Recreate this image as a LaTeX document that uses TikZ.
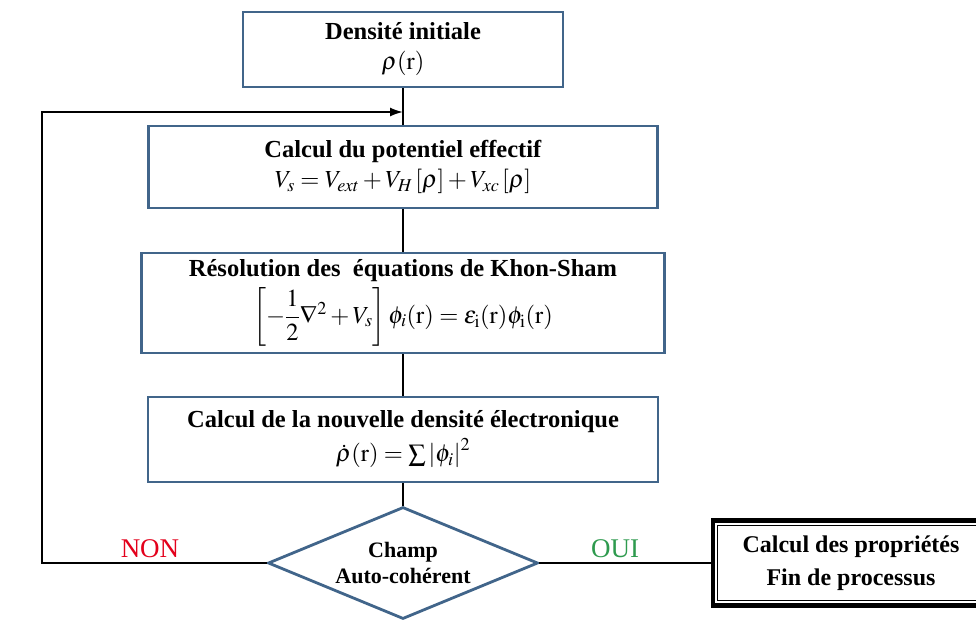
\documentclass[tikz,border=0pt]{standalone}
\usepackage{amsmath}
\usepackage{mathptmx}
\usepackage{fontspec}
\setmainfont{Liberation Serif}
\usetikzlibrary{shapes.geometric,arrows.meta,calc}
\definecolor{boxblue}{HTML}{41658A}
\definecolor{nonred}{HTML}{E3001B}
\definecolor{ouigreen}{HTML}{2E9A4E}
\begin{document}
\begin{tikzpicture}[x=1pt,y=-1pt,
  stepbox/.style={draw=boxblue,line width=2.8pt,fill=white,align=center,inner sep=0pt,
    font=\fontsize{24.5}{30}\selectfont},
  conn/.style={line width=1.8pt,black},
  lbl/.style={font=\fontsize{27}{30}\selectfont}]
\useasboundingbox (0,0) rectangle (976,630);
\node[stepbox,minimum width=320pt,minimum height=75pt] (b1) at (403,49.5)
  {\textbf{Densité initiale}\\ $\rho(\mathrm{r})$};
\node[stepbox,minimum width=509pt,minimum height=82pt] (b2) at (403,167)
  {\textbf{Calcul du potentiel effectif}\\ $V_s = V_{ext} + V_H\left[\rho\right] + V_{xc}\left[\rho\right]$};
\node[stepbox,minimum width=523pt,minimum height=100pt] (b3) at (403,303)
  {\textbf{Résolution des \ équations de Khon-Sham}\\[5pt] $\left[-\dfrac{1}{2}\nabla^2 + V_s\right]\phi_i(\mathrm{r}) = \varepsilon_{\mathrm{i}}(\mathrm{r})\phi_{\mathrm{i}}(\mathrm{r})$};
\node[stepbox,minimum width=510pt,minimum height=85pt] (b4) at (403,439.5)
  {\textbf{Calcul de la nouvelle densité électronique}\\[4pt] $\dot{\rho}(\mathrm{r}) = \sum\left|\phi_i\right|^2$};
\node[diamond,draw=boxblue,line width=2.8pt,fill=white,minimum width=270pt,minimum height=112pt,
  aspect=2.4,inner sep=0pt,align=center,font=\fontsize{22}{26}\selectfont] (d) at (403,563)
  {\textbf{Champ}\\\textbf{Auto-cohérent}};
\node[draw=black,line width=4.5pt,minimum width=276pt,minimum height=85pt,inner sep=0pt,
  align=center,font=\fontsize{24}{33}\selectfont] (fin) at (851,563)
  {\textbf{Calcul des propriétés}\\\textbf{Fin de processus}};
\draw[line width=1pt] ($(fin.south west)+(7,-7)$) rectangle ($(fin.north east)+(-7,7)$);
\coordinate (loopL) at (42,112);
\coordinate (loopT) at (403,112);
\draw[conn] (b1.south) -- (b2.north);
\draw[conn] (b2.south) -- (b3.north);
\draw[conn] (b3.south) -- (b4.north);
\draw[conn] (b4.south) -- (d.north);
\draw[conn] (d.east) -- (fin.west);
\draw[conn,-{Latex[length=13pt,width=9pt]}] (d.west) -| (loopL) -- (loopT);
\node[lbl,text=nonred] (non) at (150,549) {NON};
\node[lbl,text=ouigreen] (oui) at (615,549) {OUI};
\end{tikzpicture}
\end{document}
